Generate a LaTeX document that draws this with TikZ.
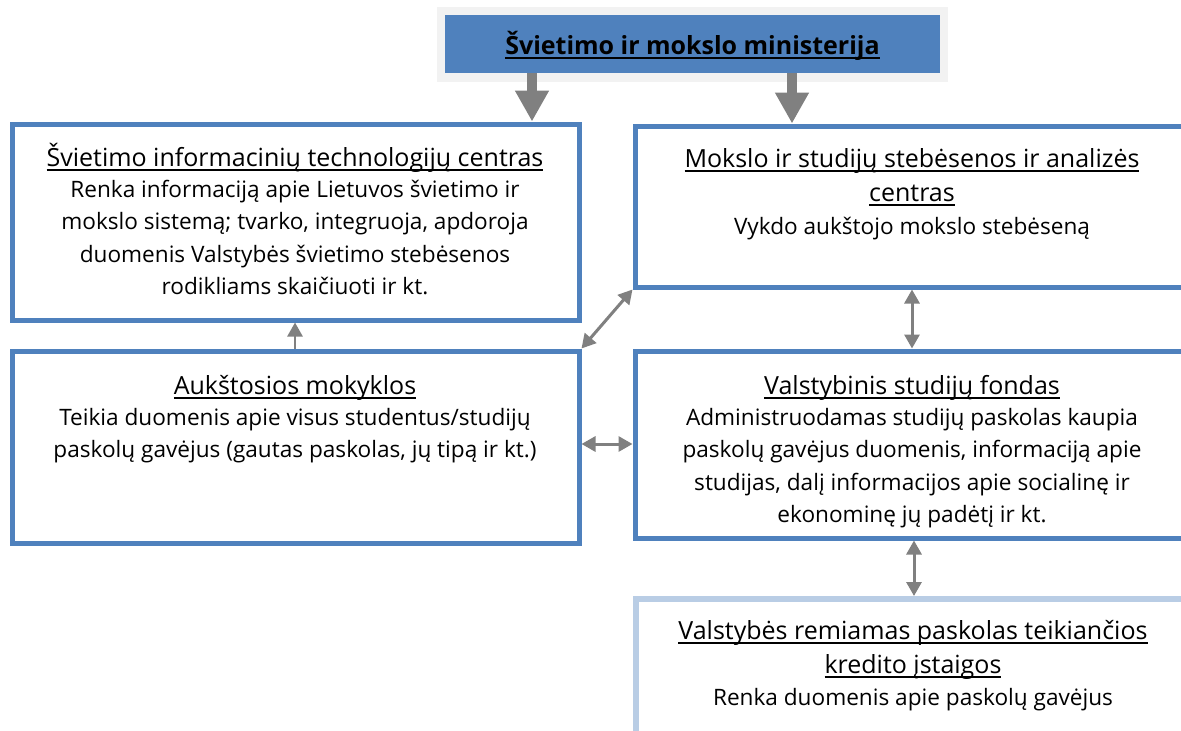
\documentclass[tikz,border=0pt]{standalone}
\usepackage{fontspec}
\setmainfont{Open Sans}
\usetikzlibrary{arrows.meta}
\definecolor{boxblue}{HTML}{4F81BD}
\definecolor{lightblue}{HTML}{B9CDE5}
\definecolor{arrgray}{HTML}{808080}
\definecolor{bggray}{HTML}{F2F2F2}
\newcommand\myul[1]{\begingroup\setbox0\hbox{#1}\rlap{\rule[-0.2em]{\wd0}{0.075em}}\box0\endgroup}
\begin{document}
\begin{tikzpicture}[x=1pt,y=-1pt,
  panel/.style={draw=boxblue,line width=5pt,inner sep=0pt,fill=white},
  lpanel/.style={draw=lightblue,line width=6pt,inner sep=0pt,fill=white},
  txt/.style={anchor=base,inner sep=0pt,font=\fontsize{22.6}{27}\selectfont},
  ttl/.style={anchor=base,inner sep=0pt,font=\fontsize{25}{30}\selectfont},
  blockarrow/.style={draw=arrgray,line width=10pt,-{Triangle[length=31pt,width=32pt]}},
  dbl/.style={draw=arrgray,line width=3pt,{Triangle[length=14pt,width=15pt]}-{Triangle[length=14pt,width=15pt]}},
  sgl/.style={draw=arrgray,line width=2.5pt,-{Triangle[length=14pt,width=15pt]}}]
\useasboundingbox (0,0) rectangle (1181,731);
\clip (0,0) rectangle (1181,731);
\fill[white] (0,0) rectangle (1181,731);

% ministry
\node[fill=bggray,minimum width=511pt,minimum height=75pt,inner sep=0pt] (minbg) at (692.5,44.5) {};
\node[fill=boxblue,minimum width=495pt,minimum height=58pt,inner sep=0pt] (min) at (692.5,44) {};
\node[ttl,font=\fontsize{25}{30}\selectfont\bfseries] (mint) at (692.5,54) {\myul{Švietimo ir mokslo ministerija}};

% boxes
\node[panel,minimum width=567pt,minimum height=196pt] (b1) at (295.5,222) {};
\node[panel,minimum width=555pt,minimum height=161pt] (b2) at (912.5,206.5) {};
\node[panel,minimum width=567pt,minimum height=192pt] (b3) at (295.5,447) {};
\node[panel,minimum width=555pt,minimum height=187pt] (b4) at (912.5,444.5) {};
\node[lpanel,minimum width=564pt,minimum height=200pt] (b5) at (918,699) {};

% box texts
\node[ttl] (t1a) at (295,166) {\myul{Švietimo informacinių technologijų centras}};
\node[txt] (t1b) at (295,197) {Renka informaciją apie Lietuvos švietimo ir};
\node[txt] (t1c) at (295,229) {mokslo sistemą; tvarko, integruoja, apdoroja};
\node[txt] (t1d) at (295,262) {duomenis Valstybės švietimo stebėsenos};
\node[txt] (t1e) at (295,294) {rodikliams skaičiuoti ir kt.};

\node[ttl] (t2a) at (912,167) {\myul{Mokslo ir studijų stebėsenos ir analizės}};
\node[ttl] (t2b) at (912,201) {\myul{centras}};
\node[txt] (t2c) at (912,234) {Vykdo aukštojo mokslo stebėseną};

\node[ttl] (t3a) at (295,394) {\myul{Aukštosios mokyklos}};
\node[txt] (t3b) at (295,425) {Teikia duomenis apie visus studentus/studijų};
\node[txt] (t3c) at (295,457) {paskolų gavėjus (gautas paskolas, jų tipą ir kt.)};

\node[ttl] (t4a) at (912,394) {\myul{Valstybinis studijų fondas}};
\node[txt] (t4b) at (912,425) {Administruodamas studijų paskolas kaupia};
\node[txt] (t4c) at (912,457) {paskolų gavėjus duomenis, informaciją apie};
\node[txt] (t4d) at (912,490) {studijas, dalį informacijos apie socialinę ir};
\node[txt] (t4e) at (912,522) {ekonominę jų padėtį ir kt.};

\node[ttl] (t5a) at (913,639) {\myul{Valstybės remiamas paskolas teikiančios}};
\node[ttl] (t5b) at (913,673) {\myul{kredito įstaigos}};
\node[txt] (t5c) at (913,705) {Renka duomenis apie paskolų gavėjus};

% connectors
\coordinate (xa) at (532,0);
\coordinate (xb) at (792,0);
\coordinate (xv) at (912,0);
\coordinate (xw) at (914,0);
\coordinate (xs) at (295,0);
\coordinate (yh) at (0,444);
\draw[blockarrow] (min.south -| xa) -- (b1.north -| xa);
\draw[blockarrow] (min.south -| xb) -- (b2.north -| xb);
\draw[sgl] (b3.north -| xs) -- (b1.south -| xs);
\draw[dbl] (b3.north east) -- (b2.south west);
\draw[dbl] (b2.south -| xv) -- (b4.north -| xv);
\draw[dbl] (b3.east |- yh) -- (b4.west |- yh);
\draw[dbl] (b4.south -| xw) -- (b5.north -| xw);
\end{tikzpicture}
\end{document}
